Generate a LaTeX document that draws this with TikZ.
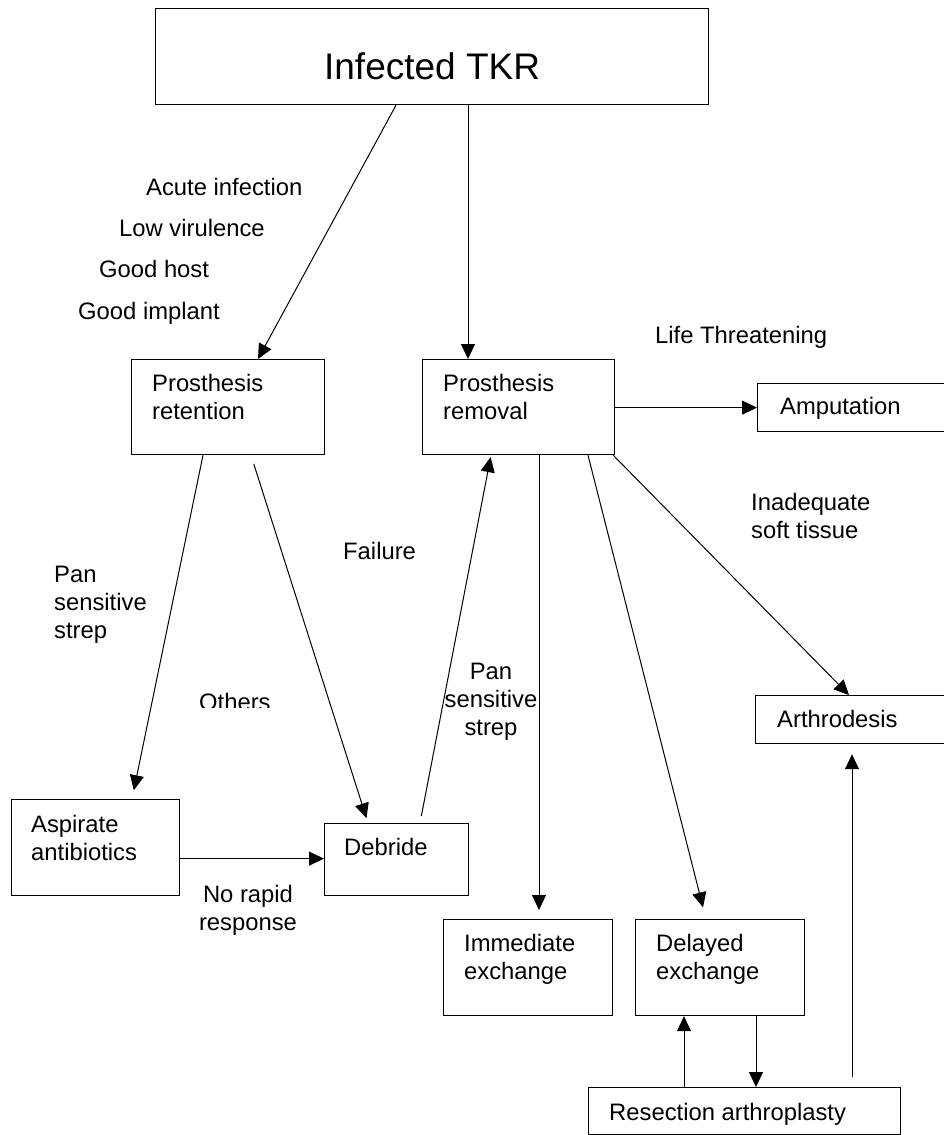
\documentclass[tikz,border=0pt]{standalone}
\usepackage{fontspec}
\setmainfont{Liberation Sans}
\usetikzlibrary{arrows.meta,calc}
\begin{document}
\begin{tikzpicture}[x=1pt,y=-1pt,
  box/.style={draw, line width=1.2pt, rectangle, inner sep=0pt, anchor=north west},
  lbl/.style={inner sep=0pt, font=\fontsize{23.8}{28}\selectfont},
  boxtext/.style={lbl, anchor=north west, align=left},
  arr/.style={line width=1pt, -{Triangle[length=15pt,width=14pt]}}
]
\clip (0,0) rectangle (944,1135);
\fill[white] (0,0) rectangle (944,1135);

% boxes
\node[box, minimum width=553, minimum height=96] (tkr) at (155,8) {};
\node[box, minimum width=193, minimum height=95] (ret) at (131,359) {};
\node[box, minimum width=192, minimum height=95] (rem) at (422,359) {};
\node[box, minimum width=220, minimum height=48] (amp) at (757,383) {};
\node[box, minimum width=220, minimum height=48] (arth) at (755,695) {};
\node[box, minimum width=168, minimum height=96] (asp) at (11,799) {};
\node[box, minimum width=144, minimum height=72] (deb) at (324,823) {};
\node[box, minimum width=169, minimum height=96] (imm) at (443,919) {};
\node[box, minimum width=169, minimum height=96] (del) at (635,919) {};
\node[box, minimum width=312, minimum height=47] (res) at (588,1087) {};

% box texts
\node[lbl, font=\fontsize{37}{44}\selectfont, anchor=base] (tkrt) at ($(tkr.south)+(0,-26)$) {Infected TKR};
\node[boxtext] (rett) at ($(ret.north west)+(21,13)$) {\strut Prosthesis\\retention};
\node[boxtext] (remt) at ($(rem.north west)+(21,13)$) {\strut Prosthesis\\removal};
\node[boxtext] (ampt) at ($(amp.north west)+(23,12)$) {\strut Amputation};
\node[boxtext] (artht) at ($(arth.north west)+(22,13)$) {\strut Arthrodesis};
\node[boxtext] (aspt) at ($(asp.north west)+(20,14)$) {\strut Aspirate\\antibiotics};
\node[boxtext] (debt) at ($(deb.north west)+(20,13)$) {\strut Debride};
\node[boxtext] (immt) at ($(imm.north west)+(21,13)$) {\strut Immediate\\exchange};
\node[boxtext] (delt) at ($(del.north west)+(21,13)$) {\strut Delayed\\exchange};
\node[boxtext] (rest) at ($(res.north west)+(21,14)$) {\strut Resection arthroplasty};

% free labels
\node[lbl, anchor=base west] (l1) at (146,195) {Acute infection};
\node[lbl, anchor=base west] (l2) at (119,236) {Low virulence};
\node[lbl, anchor=base west] (l3) at (99,277) {Good host};
\node[lbl, anchor=base west] (l4) at (78,319) {Good implant};
\node[lbl, anchor=base west] (l5) at (655,343) {Life Threatening};
\node[lbl, anchor=base west] (l6) at (343,559) {Failure};
\node[lbl, anchor=north west, align=left] (l7) at (54,563) {\strut Pan\\sensitive\\strep};
\node[lbl, anchor=north, align=center] (l8) at (491,660) {\strut Pan\\sensitive\\strep};
\node[lbl, anchor=north west, align=left] (l9) at (751,491) {\strut Inadequate\\soft tissue};
\node[lbl, anchor=north, align=center] (l10) at (248,883) {\strut No rapid\\response};
\begin{scope}
\clip (150,660) rectangle (270,707);
\node[lbl, anchor=base west] (l11) at (199,710) {Others};
\end{scope}

% connectors
\draw[arr] ($(tkr.south west)+(241,0)$) -- ($(ret.north west)+(127,0)$);
\draw[arr] ($(tkr.south west)+(313,0)$) -- ($(rem.north west)+(46,0)$);
\draw[arr] (rem.east |- amp.west) -- (amp.west);
\draw[arr, shorten >=9pt] ($(ret.south west)+(72,0)$) -- ($(asp.north west)+(121,0)$);
\draw[arr, shorten <=9pt, shorten >=5pt] ($(ret.south west)+(120,0)$) -- ($(deb.north west)+(44,0)$);
\draw[arr, shorten <=7pt, shorten >=2pt] ($(deb.north west)+(96,0)$) -- ($(rem.south west)+(69,0)$);
\draw[arr, shorten >=9pt] ($(rem.south west)+(117,0)$) -- ($(imm.north west)+(96,0)$);
\draw[arr, shorten >=12pt] ($(rem.south west)+(166,0)$) -- ($(del.north west)+(71,0)$);
\draw[arr] ($(rem.south east)+(-2,0)$) -- ($(arth.north west)+(94,0)$);
\draw[arr] (asp.east |- deb.west) ++(0,-1) coordinate (aspe) -- (aspe -| deb.west);
\draw[arr, shorten <=10pt, shorten >=10pt] ($(res.north west)+(264,0)$) -- ($(arth.south west)+(97,0)$);
\draw[arr] ($(res.north west)+(96,0)$) -- ($(del.south west)+(49,0)$);
\draw[arr] ($(del.south west)+(121,0)$) -- ($(res.north west)+(168,0)$);
\end{tikzpicture}
\end{document}
